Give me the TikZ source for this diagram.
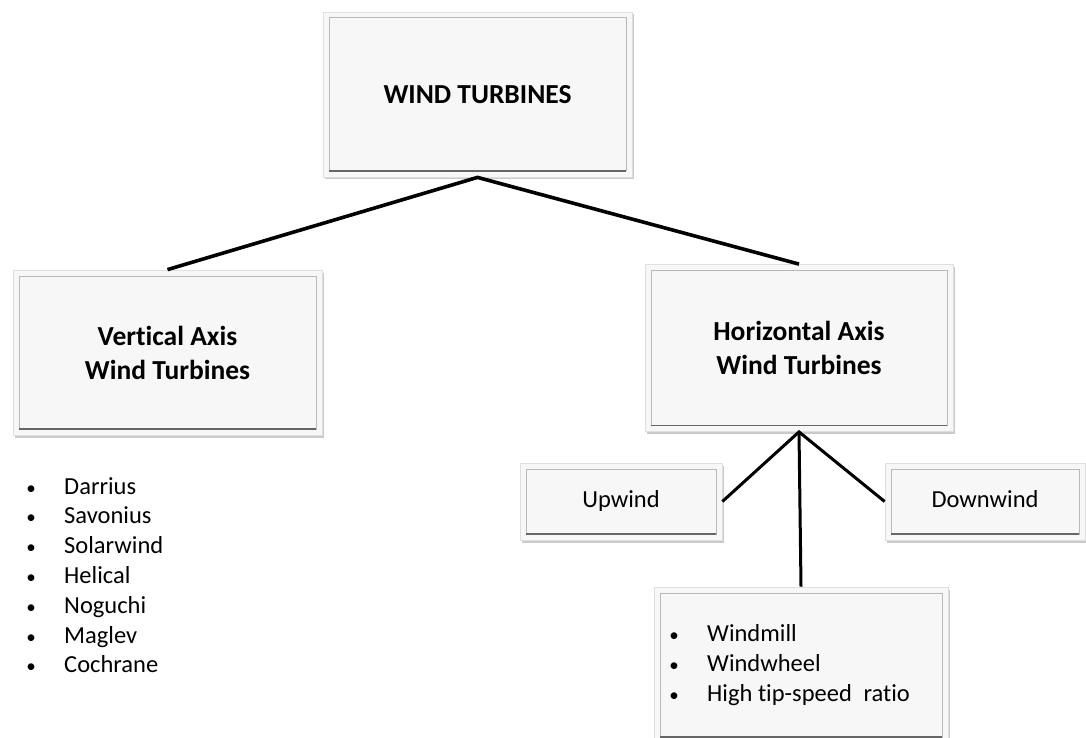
\documentclass[tikz,border=0pt]{standalone}
\usepackage{fontspec}
\setmainfont{Carlito}[Ligatures=NoCommon]
\usetikzlibrary{shadows}
\tikzset{
  box/.style={rectangle, draw=gray!25, line width=0.8pt, fill=gray!6, inner sep=0pt, align=center,
    drop shadow={shadow xshift=1.5pt, shadow yshift=-2.5pt, opacity=0.35, fill=black!60},
    path picture={
      \draw[gray!55, line width=1pt]
        ([shift={(6pt,-6pt)}]path picture bounding box.north west) rectangle
        ([shift={(-6pt,6pt)}]path picture bounding box.south east);
      \draw[gray!80!black, line width=1.6pt]
        ([shift={(6pt,6pt)}]path picture bounding box.south west) --
        ([shift={(-6pt,6pt)}]path picture bounding box.south east);
    }},
  boldtxt/.style={font=\fontsize{27.5}{34}\selectfont\bfseries},
  boxtxt/.style={font=\fontsize{24.5}{30}\selectfont, text height=16pt, text depth=5pt},
  regtxt/.style={font=\fontsize{24.5}{29.8}\selectfont, inner sep=0pt},
  bul/.style={font=\fontsize{19}{20}\selectfont, inner sep=0pt},
  toplink/.style={line width=3.6pt, black},
  sublink/.style={line width=3pt, black},
}
\begin{document}
\begin{tikzpicture}[x=1pt, y=-1pt]
\useasboundingbox (0,0) rectangle (1086,738);
% boxes
\node[box, boldtxt, minimum width=309pt, minimum height=165pt] (top) at (477.5,94.5) {WIND TURBINES};
\node[box, boldtxt, minimum width=309pt, minimum height=165pt] (left) at (167.5,352.5) {Vertical Axis\\Wind Turbines};
\node[box, boldtxt, minimum width=308pt, minimum height=167pt] (right) at (799,348) {Horizontal Axis\\Wind Turbines};
\node[box, boxtxt, minimum width=202pt, minimum height=77pt] (up) at (621,501.5) {Upwind};
\node[box, boxtxt, minimum width=200pt, minimum height=77pt] (down) at (985,501.5) {Downwind};
\node[box, minimum width=294pt, minimum height=156pt] (bot) at (801,665) {};
% connectors
\draw[toplink] (left.north) -- (top.south) -- (right.north);
\draw[sublink] (up.east) -- (right.south) -- (down.west);
\draw[sublink] (right.south) -- (bot.north);
% vertical axis list
\foreach \t [count=\i] in {Darrius,Savonius,Solarwind,Helical,Noguchi,Maglev,Cochrane}{
  \node[bul, anchor=base] (vb\i) at (31,{494+29.8*(\i-1)}) {\textbullet};
  \node[regtxt, anchor=base west] (vt\i) at (64,{494+29.8*(\i-1)}) {\t};
}
% horizontal axis list
\foreach \t [count=\i] in {Windmill,Windwheel,High tip-speed\hspace{0.25em} ratio}{
  \node[bul, anchor=base] (hb\i) at (674,{641+30*(\i-1)}) {\textbullet};
  \node[regtxt, anchor=base west] (ht\i) at (707,{641+30*(\i-1)}) {\t};
}
\end{tikzpicture}
\end{document}
